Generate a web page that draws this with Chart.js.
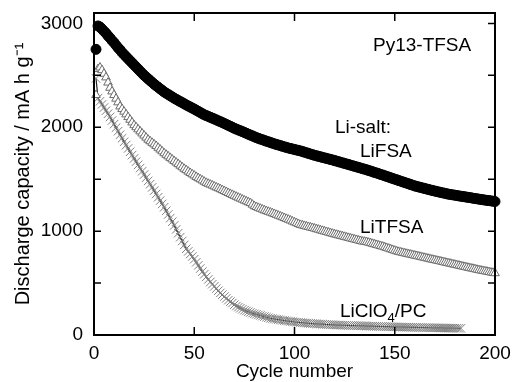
<!DOCTYPE html>
<html><head><meta charset="utf-8">
<script src="https://cdn.jsdelivr.net/npm/chart.js@4/dist/chart.umd.min.js"></script>
<style>html,body{margin:0;padding:0;background:#fff;overflow:hidden}#wrap{position:relative;width:512px;height:382px}</style>
</head><body><div id="wrap"><canvas id="c" width="512" height="382"></canvas></div>
<script>
// ---- data (discharge capacity, mA h g-1, one value per cycle starting at cycle 1) ----
const xTickValues = [0, 50, 100, 150, 200];
const yTickValues = [0, 1000, 2000, 3000];
const yMinorTickValues = [500, 1500, 2500];
const seriesNames = ['LiFSA', 'LiTFSA', 'LiClO4/PC'];

const liFSA = [
2750,2975,2965,2945,2925,2905,2880,2860,2835,2815,
2790,2765,2745,2720,2700,2680,2660,2640,2620,2600,
2580,2560,2540,2520,2500,2483,2466,2449,2432,2415,
2400,2385,2370,2355,2340,2328,2316,2304,2292,2280,
2269,2258,2247,2237,2226,2215,2205,2195,2185,2175,
2164,2153,2142,2131,2120,2112,2104,2096,2088,2080,
2071,2062,2054,2045,2036,2027,2018,2009,2000,1990,
1982,1974,1966,1958,1950,1942,1933,1925,1917,1908,
1900,1893,1886,1880,1873,1866,1860,1853,1847,1840,
1834,1829,1823,1817,1811,1806,1800,1795,1791,1786,
1781,1777,1772,1766,1760,1754,1748,1742,1736,1730,
1725,1720,1715,1710,1705,1700,1695,1690,1685,1679,
1674,1668,1663,1657,1652,1646,1641,1635,1629,1624,
1618,1613,1607,1601,1596,1590,1584,1578,1571,1565,
1559,1553,1546,1540,1533,1527,1520,1513,1507,1500,
1494,1487,1481,1474,1468,1461,1455,1448,1442,1435,
1430,1425,1420,1415,1410,1405,1400,1395,1390,1386,
1381,1377,1372,1368,1364,1359,1355,1352,1349,1346,
1343,1339,1336,1333,1330,1327,1324,1321,1317,1314,
1311,1308,1305,1302,1299,1296,1294,1291,1288,1285];

const liTFSA = [
2310,2560,2575,2550,2515,2480,2430,2380,2345,2310,
2275,2240,2200,2175,2150,2124,2098,2072,2046,2020,
2000,1980,1960,1940,1920,1900,1880,1865,1850,1835,
1820,1802,1785,1768,1750,1735,1720,1705,1690,1675,
1660,1645,1630,1615,1600,1587,1573,1560,1547,1535,
1522,1510,1499,1488,1476,1465,1456,1448,1439,1430,
1421,1413,1404,1395,1386,1377,1367,1358,1349,1340,
1331,1322,1313,1304,1295,1287,1278,1270,1255,1240,
1232,1224,1216,1208,1200,1193,1186,1179,1172,1165,
1157,1149,1141,1134,1126,1118,1110,1102,1093,1085,
1077,1068,1060,1055,1050,1045,1040,1035,1030,1025,
1019,1014,1008,1003,997,992,986,981,975,970,
965,960,955,950,945,940,935,930,925,920,
915,910,905,900,898,895,889,884,878,873,
867,862,856,851,845,838,832,825,819,812,
806,800,796,791,787,782,778,774,769,765,
761,756,752,747,743,738,734,729,725,721,
716,712,708,703,699,694,690,686,681,677,
673,668,664,659,655,651,646,642,638,634,
629,625,621,617,614,610,606,602,599,595];

const liClO4 = [
2470,2280,2250,2220,2190,2160,2130,2100,2065,2030,
1996,1962,1928,1894,1860,1828,1796,1764,1732,1700,
1669,1638,1607,1576,1545,1514,1483,1452,1421,1390,
1358,1326,1294,1262,1230,1195,1160,1125,1090,1055,
1017,980,942,905,867,830,805,780,755,730,
700,670,640,610,585,560,535,510,489,468,
447,426,405,388,370,353,335,321,307,292,
278,268,258,248,238,231,224,217,210,204,
199,193,188,182,177,171,166,160,157,154,
151,148,145,142,139,136,134,131,128,125,
123,122,120,118,116,115,113,111,110,108,
107,106,105,104,103,101,100,99,98,97,
96,96,95,94,94,93,92,91,91,90,
89,89,88,88,87,86,86,85,85,84,
83,83,82,82,81,80,80,79,79,78,
78,77,77,76,76,75,75,74,74,73,
73,72,72,72,71,71,70,70,69,69,
69,68,68,68,67,67,66,66,66,65,
65,64,64];

const toXY = arr => arr.map((v, i) => ({ x: i + 1, y: v }));
const FONT = "'Liberation Sans', Arial, sans-serif";

const frameAndText = {
  id: 'frameAndText',
  afterDatasetsDraw(chart) {
    const { ctx, chartArea: a, scales: { x, y } } = chart;
    ctx.save();
    ctx.strokeStyle = '#000';
    ctx.lineWidth = 2;
    ctx.strokeRect(a.left, a.top, a.right - a.left, a.bottom - a.top);
    ctx.lineWidth = 1.5;
    ctx.beginPath();
    xTickValues.forEach(v => {
      const px = x.getPixelForValue(v);
      ctx.moveTo(px, a.bottom); ctx.lineTo(px, a.bottom - 8);
      ctx.moveTo(px, a.top); ctx.lineTo(px, a.top + 8);
    });
    yTickValues.concat(yMinorTickValues).forEach(v => {
      const py = y.getPixelForValue(v);
      ctx.moveTo(a.left, py); ctx.lineTo(a.left + 7, py);
      ctx.moveTo(a.right, py); ctx.lineTo(a.right - 7, py);
    });
    ctx.stroke();

    ctx.fillStyle = '#000';
    ctx.textBaseline = 'alphabetic';
    ctx.textAlign = 'left';
    ctx.font = '19px ' + FONT;
    ctx.fillText('Py13-TFSA', 373, 51);
    ctx.fillText('Li-salt:', 335, 133);
    ctx.fillText('LiFSA', 360, 157);
    ctx.fillText('LiTFSA', 360, 233);
    let xx = 340;
    const by = 317;
    ctx.fillText('LiClO', xx, by);
    xx += ctx.measureText('LiClO').width;
    ctx.font = '13px ' + FONT;
    ctx.fillText('4', xx, by + 5);
    xx += ctx.measureText('4').width;
    ctx.font = '19px ' + FONT;
    ctx.fillText('/PC', xx, by);
    ctx.restore();
  }
};

const zeroPad = s => { s.paddingTop = 0; s.paddingBottom = 0; s.paddingLeft = 0; s.paddingRight = 0; };

new Chart(document.getElementById('c'), {
  type: 'scatter',
  data: {
    datasets: [
      {
        label: seriesNames[0], data: toXY(liFSA), showLine: false,
        pointStyle: 'circle', pointRadius: 5, pointBorderWidth: 1,
        pointBackgroundColor: '#000', pointBorderColor: '#000', clip: false
      },
      {
        label: seriesNames[1], data: toXY(liTFSA), showLine: false,
        pointStyle: 'triangle', pointRadius: 5, pointBorderWidth: 1,
        pointBackgroundColor: '#fff', pointBorderColor: '#6c6c6c', clip: false
      },
      {
        label: seriesNames[2], data: toXY(liClO4), showLine: true,
        borderColor: '#222', borderWidth: 1.2,
        pointStyle: 'crossRot', pointRadius: 6, pointBorderWidth: 1,
        pointBackgroundColor: '#808080', pointBorderColor: '#808080', clip: false
      }
    ]
  },
  options: {
    responsive: false, animation: false, devicePixelRatio: 1,
    layout: { padding: { top: 13, right: 17, left: 0, bottom: 0 } },
    plugins: { legend: { display: false }, tooltip: { enabled: false } },
    scales: {
      x: {
        type: 'linear', min: 0, max: 200,
        afterFit: s => { s.height = 47; zeroPad(s); },
        afterBuildTicks: s => { s.ticks = xTickValues.map(v => ({ value: v })); },
        grid: { display: false, drawTicks: false },
        border: { display: false },
        ticks: { color: '#000', padding: 7, maxRotation: 0, autoSkip: false, font: { size: 19, family: FONT },
                 callback: v => String(v) },
        title: { display: true, text: 'Cycle number', color: '#000', padding: { top: 0, bottom: -1 }, font: { size: 19, family: FONT } }
      },
      y: {
        type: 'linear', min: 0, max: 3100,
        afterFit: s => { s.width = 94; zeroPad(s); },
        afterBuildTicks: s => { s.ticks = yTickValues.map(v => ({ value: v })); },
        ticks: {
          autoSkip: false, color: '#000', padding: 11,
          font: { size: 19, family: FONT },
          callback: v => String(v)
        },
        grid: { display: false, drawTicks: false },
        border: { display: false },
        title: { display: true, text: 'Discharge capacity / mA h g\u207B\u00B9', color: '#000', padding: { top: 11, bottom: 0 }, font: { size: 20, family: FONT } }
      }
    }
  },
  plugins: [frameAndText]
});
</script>
</body></html>
